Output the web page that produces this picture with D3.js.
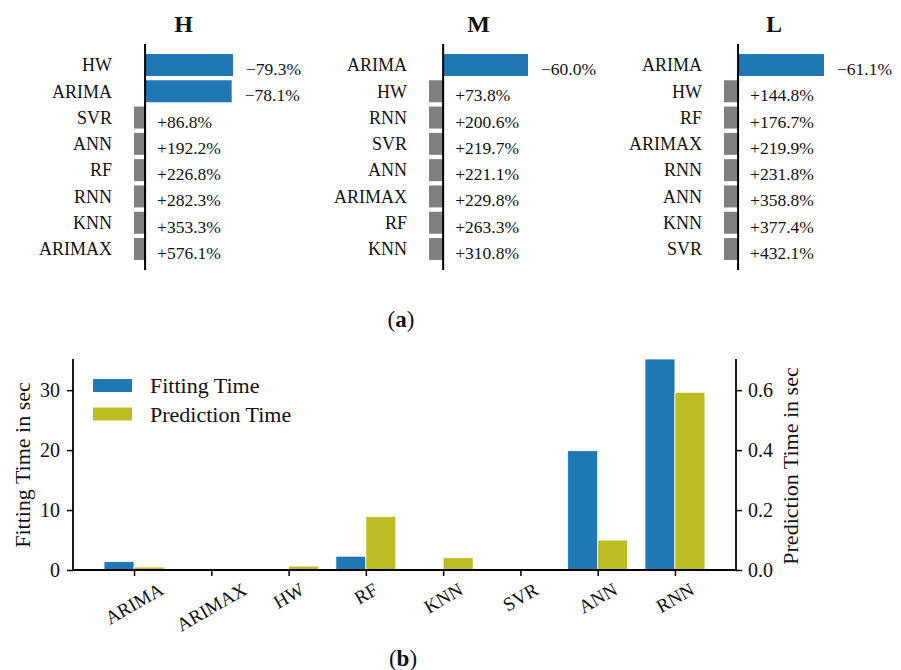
<!DOCTYPE html>
<html>
<head>
<meta charset="utf-8">
<script src="https://cdn.jsdelivr.net/npm/d3@7"></script>
<style>
  html, body { margin: 0; padding: 0; background: #fff; }
  svg { display: block; }
  text { font-family: 'Liberation Serif', 'Times New Roman', serif; fill: #111; }
</style>
</head>
<body>
<svg id="chart" width="901" height="670"></svg>
<script>
// ---------- Data (a): relative change per method ----------
const panelTitles = ["H", "M", "L"];
const catsH = ["HW", "ARIMA", "SVR", "ANN", "RF", "RNN", "KNN", "ARIMAX"];
const valsH = [-79.3, -78.1, 86.8, 192.2, 226.8, 282.3, 353.3, 576.1];
const catsM = ["ARIMA", "HW", "RNN", "SVR", "ANN", "ARIMAX", "RF", "KNN"];
const valsM = [-60.0, 73.8, 200.6, 219.7, 221.1, 229.8, 263.3, 310.8];
const catsL = ["ARIMA", "HW", "RF", "ARIMAX", "RNN", "ANN", "KNN", "SVR"];
const valsL = [-61.1, 144.8, 176.7, 219.9, 231.8, 358.8, 377.4, 432.1];
const clipLimit = 10; // axis limit on the "worse" side

// ---------- Data (b): timing ----------
const methods = ["ARIMA", "ARIMAX", "HW", "RF", "KNN", "SVR", "ANN", "RNN"];
const fitTime = [1.4, 0.02, 0.01, 2.3, 0.01, 0.03, 19.9, 35.2];
const predTime = [0.010, 0.005, 0.013, 0.178, 0.041, 0.001, 0.100, 0.593];
const fitTicks = [0, 10, 20, 30];
const predTicks = [0.0, 0.2, 0.4, 0.6];
const fitMax = 35.2, predMax = 0.704;

const BLUE = "#1f77b4", OLIVE = "#bcbd22", GRAY = "#7f7f7f";
const svg = d3.select("#chart");

// ================= Panel (a) =================
const panels = [
  {title: panelTitles[0], cats: catsH, vals: valsH, left: 134, right: 233},
  {title: panelTitles[1], cats: catsM, vals: valsM, left: 429, right: 528},
  {title: panelTitles[2], cats: catsL, vals: valsL, left: 724, right: 824}
];
const topY0 = 44, topY1 = 270;

panels.forEach(p => {
  const g = svg.append("g");
  const x = d3.scaleLinear()
    .domain([clipLimit, d3.min(p.vals)])
    .range([p.left, p.right])
    .clamp(true);
  const y = d3.scaleBand().domain(p.cats).range([topY0, topY1])
    .paddingInner(0.164).paddingOuter(0.38);
  const data = p.cats.map((c, i) => ({c, v: p.vals[i]}));

  g.selectAll("rect.bar").data(data).join("rect")
    .attr("class", "bar")
    .attr("x", d => Math.min(x(0), x(d.v)))
    .attr("width", d => Math.abs(x(d.v) - x(0)))
    .attr("y", d => y(d.c))
    .attr("height", y.bandwidth())
    .attr("fill", d => d.v < 0 ? BLUE : GRAY);

  // zero axis line
  g.append("line")
    .attr("x1", x(0)).attr("x2", x(0))
    .attr("y1", topY0).attr("y2", topY1)
    .attr("stroke", "#000").attr("stroke-width", 2);

  // category labels
  g.selectAll("text.cat").data(data).join("text")
    .attr("class", "cat")
    .attr("x", p.left - 22)
    .attr("y", d => y(d.c) + y.bandwidth() / 2)
    .attr("dy", "0.35em")
    .attr("text-anchor", "end")
    .style("font-size", "18px")
    .text(d => d.c);

  // value labels
  g.selectAll("text.val").data(data).join("text")
    .attr("class", "val")
    .attr("x", d => d.v < 0 ? x(d.v) + 13 : x(0) + 12)
    .attr("y", d => y(d.c) + y.bandwidth() / 2 + 10)
    .style("font-size", "17.5px")
    .text(d => (d.v < 0 ? "\u2212" : "+") + Math.abs(d.v).toFixed(1) + "%");

  // title
  g.append("text")
    .attr("x", (p.left + p.right) / 2)
    .attr("y", 32)
    .attr("text-anchor", "middle")
    .style("font-size", "24px")
    .style("font-weight", "bold")
    .text(p.title);
});

// caption (a)
const capA = svg.append("text").attr("x", 401).attr("y", 327)
  .attr("text-anchor", "middle").style("font-size", "23px");
capA.append("tspan").text("(");
capA.append("tspan").style("font-weight", "bold").text("a");
capA.append("tspan").text(")");

// ================= Panel (b) =================
const bx0 = 73, bx1 = 736, by0 = 570, by1 = 359;
const xb = d3.scalePoint().domain(methods).range([bx0, bx1]).padding(0.79);
const yFit = d3.scaleLinear().domain([0, fitMax]).range([by0, by1]).clamp(true);
const yPred = d3.scaleLinear().domain([0, predMax]).range([by0, by1]).clamp(true);
const barW = 30;
const gb = svg.append("g");

const bdata = methods.map((m, i) => ({m, f: fitTime[i], p: predTime[i]}));

gb.selectAll("rect.fit").data(bdata).join("rect")
  .attr("class", "fit")
  .attr("x", d => xb(d.m) - barW)
  .attr("width", barW)
  .attr("y", d => yFit(d.f))
  .attr("height", d => by0 - yFit(d.f))
  .attr("fill", BLUE)
  .attr("stroke", "#fff").attr("stroke-width", 0.8);

gb.selectAll("rect.pred").data(bdata).join("rect")
  .attr("class", "pred")
  .attr("x", d => xb(d.m))
  .attr("width", barW)
  .attr("y", d => yPred(d.p))
  .attr("height", d => by0 - yPred(d.p))
  .attr("fill", OLIVE)
  .attr("stroke", "#fff").attr("stroke-width", 0.8);

// axes
const axL = gb.append("g").attr("transform", `translate(${bx0},0)`)
  .call(d3.axisLeft(yFit).tickValues(fitTicks).tickSize(6).tickPadding(7).tickFormat(d3.format("d")));
const axR = gb.append("g").attr("transform", `translate(${bx1},0)`)
  .call(d3.axisRight(yPred).tickValues(predTicks).tickSize(6).tickPadding(6).tickFormat(d3.format(".1f")));
const axB = gb.append("g").attr("transform", `translate(0,${by0})`)
  .call(d3.axisBottom(xb).tickSize(6).tickSizeOuter(0).tickFormat(""));

[axL, axR, axB].forEach(a => {
  a.select(".domain").attr("stroke", "#000").attr("stroke-width", 1.8);
  a.selectAll(".tick line").attr("stroke", "#000").attr("stroke-width", 1.5);
  a.selectAll(".tick text").style("font-size", "20px")
    .style("font-family", "'Liberation Serif', 'Times New Roman', serif").attr("fill", "#111");
});
// plain axis lines (no end caps)
axL.select(".domain").attr("d", `M0,${by0}V${by1}`);
axR.select(".domain").attr("d", `M0,${by0}V${by1}`);
axB.select(".domain").attr("d", `M${bx0},0H${bx1}`);

// rotated x tick labels
const xl = gb.selectAll("text.xl").data(methods).join("text")
  .attr("class", "xl")
  .attr("text-anchor", "middle")
  .attr("dy", "0.35em")
  .style("font-size", "19px")
  .text(d => d);
xl.each(function(d) {
  const L = this.getComputedTextLength();
  const h = 13;
  const cy = 582 + (L * 0.5 + h * 0.866) / 2;
  d3.select(this).attr("transform", `translate(${xb(d)},${cy}) rotate(-30)`);
});

// axis titles
gb.append("text").attr("transform", `translate(30,465) rotate(-90)`)
  .attr("text-anchor", "middle").style("font-size", "22px").text("Fitting Time in sec");
gb.append("text").attr("transform", `translate(798,466) rotate(-90)`)
  .attr("text-anchor", "middle").style("font-size", "22px").text("Prediction Time in sec");

// legend
const legend = [{label: "Fitting Time", color: BLUE}, {label: "Prediction Time", color: OLIVE}];
const lg = gb.selectAll("g.leg").data(legend).join("g").attr("class", "leg")
  .attr("transform", (d, i) => `translate(93,${379 + i * 28.5})`);
lg.append("rect").attr("width", 39).attr("height", 13).attr("fill", d => d.color);
lg.append("text").attr("x", 57).attr("y", 14).style("font-size", "22px").text(d => d.label);

// caption (b)
const capB = svg.append("text").attr("x", 403).attr("y", 666)
  .attr("text-anchor", "middle").style("font-size", "23px");
capB.append("tspan").text("(");
capB.append("tspan").style("font-weight", "bold").text("b");
capB.append("tspan").text(")");
</script>
</body>
</html>
